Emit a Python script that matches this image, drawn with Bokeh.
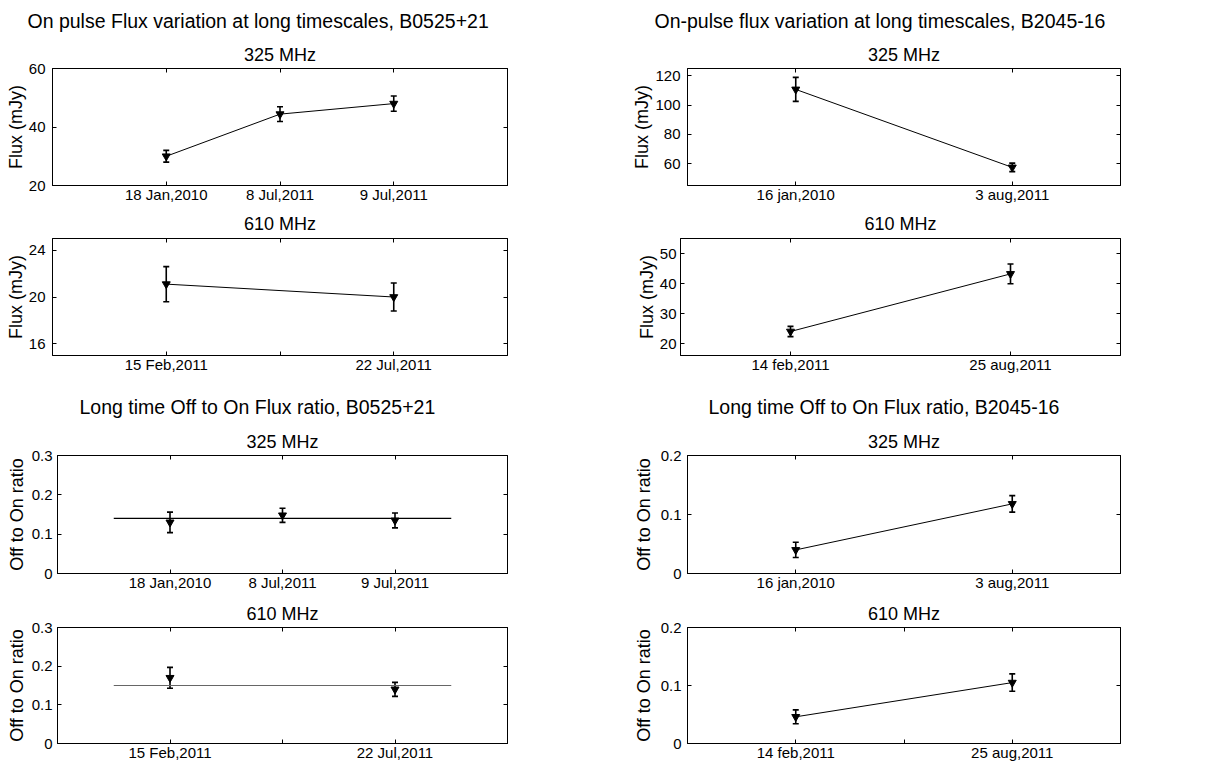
from bokeh.plotting import figure
from bokeh.models import (ColumnDataSource, Whisker, TeeHead, Title, LinearAxis,
                          FixedTicker, Range1d, CustomJSTickFormatter)
from bokeh.layouts import column, row
from bokeh.embed import file_html
from bokeh.resources import INLINE

FONT = "Liberation Sans"

# ---------------- data ----------------
b0525_325_dates = ["18 Jan,2010", "8 Jul,2011", "9 Jul,2011"]
b0525_325_flux = [30.0, 44.4, 48.0]
b0525_325_flux_err = [2.0, 2.5, 2.6]
b0525_325_ratio = [0.130, 0.148, 0.135]
b0525_325_ratio_err = [0.026, 0.018, 0.019]
b0525_325_ratio_mean = 0.14
b0525_325_ratio_span = [0.5, 3.5]

b0525_610_dates = ["15 Feb,2011", "22 Jul,2011"]
b0525_610_flux = [21.1, 20.0]
b0525_610_flux_err = [1.5, 1.2]
b0525_610_ratio = [0.170, 0.140]
b0525_610_ratio_err = [0.027, 0.018]
b0525_610_ratio_mean = 0.15
b0525_610_ratio_span = [0.75, 2.25]

b2045_325_dates = ["16 jan,2010", "3 aug,2011"]
b2045_325_flux = [110.7, 57.4]
b2045_325_flux_err = [8.2, 2.9]
b2045_325_ratio = [0.040, 0.118]
b2045_325_ratio_err = [0.013, 0.014]

b2045_610_dates = ["14 feb,2011", "25 aug,2011"]
b2045_610_flux = [24.0, 43.2]
b2045_610_flux_err = [1.7, 3.3]
b2045_610_ratio = [0.046, 0.105]
b2045_610_ratio_err = [0.012, 0.015]

flux_ticks_b0525_325 = [20, 40, 60]
flux_ticks_b0525_610 = [16, 20, 24]
flux_ticks_b2045_325 = [60, 80, 100, 120]
flux_ticks_b2045_610 = [20, 30, 40, 50]
ratio_ticks_b0525 = [0, 0.1, 0.2, 0.3]
ratio_ticks_b2045 = [0, 0.1, 0.2]
ratio_tick_labels_b0525 = ["0", "0.1", "0.2", "0.3"]
ratio_tick_labels_b2045 = ["0", "0.1", "0.2"]


def ticks_cfg(ax, ticks, labels, size="15px", standoff=6):
    ax.ticker = FixedTicker(ticks=ticks)
    ax.major_label_overrides = {float(t): l for t, l in zip(ticks, labels)}
    ax.major_tick_in = 4
    ax.major_tick_out = 0
    ax.minor_tick_line_color = None
    ax.major_label_text_font = FONT
    ax.major_label_text_font_size = size
    ax.major_label_text_color = "black"
    ax.major_label_standoff = standoff
    ax.axis_line_color = "black"
    ax.major_tick_line_color = "black"


def blank_axis(ticks):
    ax = LinearAxis(ticker=FixedTicker(ticks=ticks),
                    formatter=CustomJSTickFormatter(code="return ''"),
                    major_tick_in=4, major_tick_out=0,
                    minor_tick_line_color=None, major_label_standoff=0,
                    major_label_text_font_size="1px", axis_line_color="black",
                    major_tick_line_color="black")
    return ax


def panel(width, height, borders, xr, yr, dates, xticks, yticks, ylabels, ylabel,
          vals, errs, connect=True, mean=None, span=None, mean_color="black",
          subtitle="", sub_standoff=7, group=None, group_offset=0, group_standoff=12,
          ystand=7, ylstand=0):
    l, r, t, b = borders
    p = figure(width=width, height=height, x_range=Range1d(*xr), y_range=Range1d(*yr),
               output_backend="svg", toolbar_location=None, title=None,
               min_border_left=l, min_border_right=r, min_border_top=t,
               min_border_bottom=b, background_fill_color="white",
               border_fill_color="white")
    p.xgrid.visible = False
    p.ygrid.visible = False
    p.outline_line_color = "black"
    p.outline_line_width = 1

    xs = list(range(1, len(vals) + 1))
    xlabels = []
    for tk in xticks:
        if float(tk).is_integer() and 1 <= tk <= len(dates):
            xlabels.append(dates[int(tk) - 1])
        else:
            xlabels.append("")
    ticks_cfg(p.xaxis[0], xticks, xlabels, standoff=0)
    ticks_cfg(p.yaxis[0], yticks, ylabels, standoff=ystand)
    p.yaxis[0].axis_label = ylabel
    p.yaxis[0].axis_label_text_font = FONT
    p.yaxis[0].axis_label_text_font_size = "18px"
    p.yaxis[0].axis_label_text_font_style = "normal"
    p.yaxis[0].axis_label_text_color = "black"
    p.yaxis[0].axis_label_standoff = ylstand

    p.add_layout(blank_axis(xticks), "above")
    p.add_layout(blank_axis(yticks), "right")

    p.add_layout(Title(text=subtitle, text_font=FONT, text_font_size="18px",
                       text_font_style="normal", text_color="black",
                       align="center", standoff=sub_standoff), "above")
    if group is not None:
        p.add_layout(Title(text=group, text_font=FONT, text_font_size="19.5px",
                           text_font_style="normal", text_color="black",
                           align="left", offset=group_offset,
                           standoff=group_standoff), "above")

    lower = [v - e for v, e in zip(vals, errs)]
    upper = [v + e for v, e in zip(vals, errs)]
    src = ColumnDataSource(dict(x=xs, y=vals, lower=lower, upper=upper))
    if connect:
        p.line("x", "y", source=src, line_color="black", line_width=1)
    if mean is not None:
        p.line(x=span, y=[mean, mean], line_color=mean_color, line_width=1.2)
    w = Whisker(source=src, base="x", lower="lower", upper="upper", dimension="height",
                line_color="black", line_width=1.6,
                upper_head=TeeHead(size=6, line_width=1.6, line_color="black"),
                lower_head=TeeHead(size=6, line_width=1.6, line_color="black"))
    p.add_layout(w)
    p.scatter("x", "y", source=src, marker="inverted_triangle", size=8,
              fill_color="black", line_color="black")
    return p


LW, RW = 600, 530
# row 1
p1 = panel(LW, 207, (52, 93, 68, 22), (0, 4), (20, 60), b0525_325_dates, [1, 2, 3],
           flux_ticks_b0525_325, [str(v) for v in flux_ticks_b0525_325], "Flux (mJy)",
           b0525_325_flux, b0525_325_flux_err, subtitle="325 MHz", sub_standoff=8,
           group="On pulse Flux variation at long timescales, B0525+21",
           group_offset=-25, group_standoff=14)
p2 = panel(RW, 207, (87, 10, 68, 22), (0.5, 2.5), (45, 125), b2045_325_dates, [1, 2],
           flux_ticks_b2045_325, [str(v) for v in flux_ticks_b2045_325], "Flux (mJy)",
           b2045_325_flux, b2045_325_flux_err, subtitle="325 MHz", sub_standoff=8,
           group="On-pulse flux variation at long timescales, B2045-16",
           group_offset=-33, group_standoff=14)
# row 2
p3 = panel(LW, 178, (52, 93, 31, 30), (0.5, 2.5), (15, 25), b0525_610_dates, [1, 1.5, 2],
           flux_ticks_b0525_610, [str(v) for v in flux_ticks_b0525_610], "Flux (mJy)",
           b0525_610_flux, b0525_610_flux_err, subtitle="610 MHz", sub_standoff=9)
p4 = panel(RW, 178, (80, 10, 31, 30), (0.5, 2.5), (16, 55), b2045_610_dates, [1, 2],
           flux_ticks_b2045_610, [str(v) for v in flux_ticks_b2045_610], "Flux (mJy)",
           b2045_610_flux, b2045_610_flux_err, subtitle="610 MHz", sub_standoff=9,
           ystand=4)
# row 3
p5 = panel(LW, 213, (57, 93, 70, 25), (0, 4), (0, 0.3), b0525_325_dates, [1, 2, 3],
           ratio_ticks_b0525, ratio_tick_labels_b0525, "Off to On ratio",
           b0525_325_ratio, b0525_325_ratio_err, connect=False,
           mean=b0525_325_ratio_mean, span=b0525_325_ratio_span, subtitle="325 MHz",
           group="Long time Off to On Flux ratio, B0525+21", group_offset=22,
           group_standoff=17, ystand=5, ylstand=2)
p6 = panel(RW, 213, (87, 10, 70, 25), (0.5, 2.5), (0, 0.2), b2045_325_dates, [1, 2],
           ratio_ticks_b2045, ratio_tick_labels_b2045, "Off to On ratio",
           b2045_325_ratio, b2045_325_ratio_err, subtitle="325 MHz",
           group="Long time Off to On Flux ratio, B2045-16", group_offset=21,
           group_standoff=17, ystand=6, ylstand=4)
# row 4
p7 = panel(LW, 167, (57, 93, 27, 22), (0.5, 2.5), (0, 0.3), b0525_610_dates, [1, 1.5, 2],
           ratio_ticks_b0525, ratio_tick_labels_b0525, "Off to On ratio",
           b0525_610_ratio, b0525_610_ratio_err, connect=False,
           mean=b0525_610_ratio_mean, span=b0525_610_ratio_span, mean_color="#666666",
           subtitle="610 MHz", ystand=5, ylstand=2)
p8 = panel(RW, 167, (87, 10, 27, 22), (0.5, 2.5), (0, 0.2), b2045_610_dates, [1, 1.5, 2],
           ratio_ticks_b2045, ratio_tick_labels_b2045, "Off to On ratio",
           b2045_610_ratio, b2045_610_ratio_err, subtitle="610 MHz",
           ystand=6, ylstand=4)

layout = column(row(p1, p2), row(p3, p4), row(p5, p6), row(p7, p8))
open("out.html", "w").write(file_html(layout, INLINE))
